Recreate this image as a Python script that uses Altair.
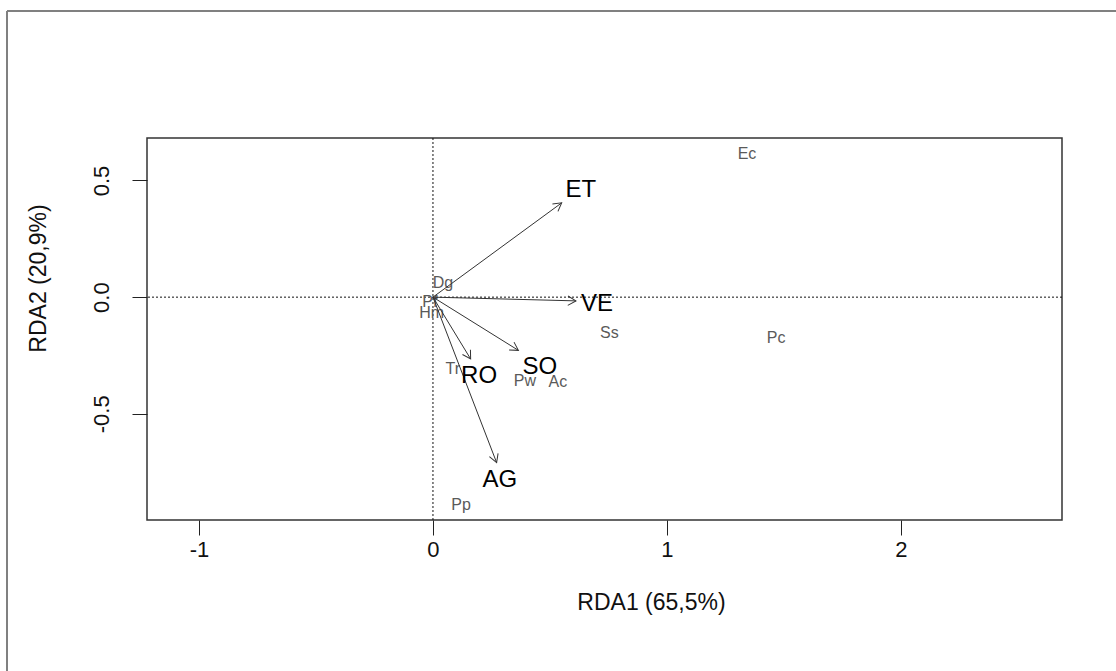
import math
import altair as alt
import pandas as pd

# ---- data ----
env_names = ["ET", "VE", "SO", "RO", "AG"]
env_x = [0.550, 0.611, 0.365, 0.161, 0.272]
env_y = [0.404, -0.016, -0.228, -0.265, -0.709]
env_lab_x = [0.632, 0.701, 0.457, 0.197, 0.286]
env_lab_y = [0.458, -0.029, -0.298, -0.340, -0.785]

sp_names = ["Dg", "Pf", "Hm", "Tr", "Pw", "Ac", "Pp", "Ec", "Ss", "Pc"]
sp_x = [0.043, -0.013, -0.006, 0.085, 0.393, 0.534, 0.120, 1.342, 0.754, 1.466]
sp_y = [0.061, -0.019, -0.067, -0.306, -0.360, -0.362, -0.890, 0.615, -0.153, -0.176]

x_ticks = [-1, 0, 1, 2]
y_ticks = [-0.5, 0.0, 0.5]
x_domain = [-1.222, 2.688]
y_domain = [-0.955, 0.682]

FONT = "Liberation Sans"
NARROW = "Liberation Sans Narrow, Arial Narrow, Liberation Sans"

env = pd.DataFrame({
    "name": env_names, "x": env_x, "y": env_y,
    "lx": env_lab_x, "ly": env_lab_y,
    "x0": [0.0] * len(env_names), "y0": [0.0] * len(env_names),
})
env["ang"] = [(math.degrees(math.atan2(a, b)) + 360) % 360 for a, b in zip(env_x, env_y)]
sp = pd.DataFrame({"name": sp_names, "x": sp_x, "y": sp_y})
zero = pd.DataFrame({"v": [0.0]})

xs = alt.Scale(domain=x_domain, nice=False, zero=False)
ys = alt.Scale(domain=y_domain, nice=False, zero=False)

xaxis = alt.Axis(values=x_ticks, grid=False, domain=False,
                 labelExpr="toString(datum.value)",
                 tickSize=15, tickColor="#222", tickWidth=1,
                 labelFont=NARROW, labelFontSize=22, labelColor="#111",
                 labelBaseline="alphabetic", labelPadding=21,
                 title="RDA1 (65,5%)", titleFont=NARROW, titleFontSize=23,
                 titleFontWeight="normal", titleColor="#111",
                 titleX=504, titleY=82, titleAlign="center",
                 titleBaseline="middle", titleAngle=0)
yaxis = alt.Axis(values=y_ticks, grid=False, domain=False,
                 labelExpr="datum.value == 0 ? '0.0' : toString(datum.value)",
                 tickSize=15, tickColor="#222", tickWidth=1,
                 labelFont=FONT, labelFontSize=22, labelColor="#111",
                 labelAngle=270, labelAlign="center", labelBaseline="alphabetic",
                 labelPadding=24,
                 title="RDA2 (20,9%)", titleFont=FONT, titleFontSize=23,
                 titleFontWeight="normal", titleColor="#111",
                 titleX=-109, titleY=140, titleAlign="center",
                 titleBaseline="middle", titleAngle=270)

base_axes = alt.Chart(zero).mark_point(opacity=0).encode(
    x=alt.X("v:Q", scale=xs, axis=xaxis),
    y=alt.Y("v:Q", scale=ys, axis=yaxis),
)

vline = alt.Chart(zero).mark_rule(color="#111", strokeDash=[2, 2], strokeWidth=1).encode(
    x=alt.X("v:Q", scale=xs)
)
hline = alt.Chart(zero).mark_rule(color="#111", strokeDash=[2, 2], strokeWidth=1).encode(
    y=alt.Y("v:Q", scale=ys)
)

species = alt.Chart(sp).mark_text(font=FONT, fontSize=16, color="#5a5a5a",
                                  align="center", baseline="middle").encode(
    x=alt.X("x:Q", scale=xs), y=alt.Y("y:Q", scale=ys), text="name:N"
)

shafts = alt.Chart(env).mark_rule(color="#333", strokeWidth=1).encode(
    x=alt.X("x0:Q", scale=xs), x2="x:Q",
    y=alt.Y("y0:Q", scale=ys), y2="y:Q",
)

heads = alt.Chart(env).mark_point(
    shape="M -0.577 1 L 0 0 L 0.577 1", filled=False, color="#333",
    strokeWidth=1, size=260, opacity=1
).encode(
    x=alt.X("x:Q", scale=xs), y=alt.Y("y:Q", scale=ys),
    angle=alt.Angle("ang:Q", scale=None),
)

env_labels = alt.Chart(env).mark_text(font=FONT, fontSize=24, color="#000",
                                      align="center", baseline="middle").encode(
    x=alt.X("lx:Q", scale=xs), y=alt.Y("ly:Q", scale=ys), text="name:N"
)

# outer frame of the figure (only top and left edges visible)
frame_top = alt.Chart(zero).mark_rule(color="#808080", strokeWidth=2).encode(
    x=alt.value(-140), x2=alt.value(1000), y=alt.value(-127)
)
frame_left = alt.Chart(zero).mark_rule(color="#808080", strokeWidth=2).encode(
    x=alt.value(-140), y=alt.value(-127), y2=alt.value(560)
)

chart = alt.layer(
    base_axes, vline, hline, species, shafts, heads, env_labels,
    frame_top, frame_left
).properties(
    width=915, height=382,
    autosize=alt.AutoSizeParams(type="none"),
    padding={"left": 147, "top": 138, "right": 54, "bottom": 151},
    background="white",
).configure_view(stroke="#333", strokeWidth=1.5)

chart.save("out.html", embed_options={"renderer": "svg", "actions": False})
